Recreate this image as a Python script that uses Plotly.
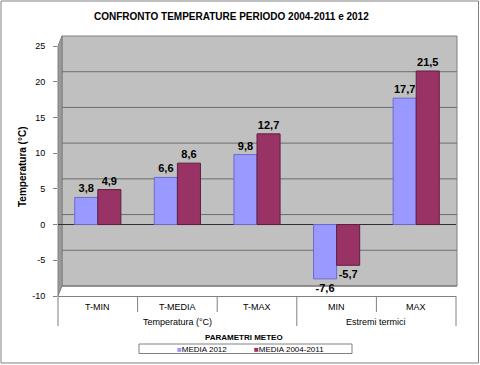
import plotly.graph_objects as go

groups = ["Temperatura (°C)", "Temperatura (°C)", "Temperatura (°C)", "Estremi termici", "Estremi termici"]
categories = ["T-MIN", "T-MEDIA", "T-MAX", "MIN", "MAX"]
media_2012 = [3.8, 6.6, 9.8, -7.6, 17.7]
media_2004_2011 = [4.9, 8.6, 12.7, -5.7, 21.5]
series_names = ["MEDIA 2012", "MEDIA 2004-2011"]
series_colors = ["#9999FF", "#993366"]
y_ticks = [-10, -5, 0, 5, 10, 15, 20, 25]

FONT = "Liberation Sans, Arial, sans-serif"

W, H = 480, 365
L, R, T, B = 58, 24, 46, 69
pw, ph = W - L - R, H - T - B
DEPTH_X, DEPTH_Y = 4, 10  # 3D wall offset in pixels


def px_x(p):
    return (p - L) / pw


def px_y(p):
    return (H - B - p) / ph


def fmt(v):
    return f"{v:.1f}".replace(".", ",")


fig = go.Figure()
outlines = ["#6B6BD0", "#5E1F40"]
for name, vals, col, oc in zip(series_names, [media_2012, media_2004_2011], series_colors, outlines):
    fig.add_trace(go.Bar(
        x=categories, y=vals, name=name,
        marker=dict(color=col, line=dict(color=oc, width=1)),
        text=[fmt(v) for v in vals],
        textposition="outside", cliponaxis=False,
        textfont=dict(family=FONT, size=11, color="#000000"),
        texttemplate="<b>%{text}</b>",
        showlegend=False, hoverinfo="skip",
    ))

shapes = []
# outer chart border
shapes.append(dict(type="rect", xref="paper", yref="paper",
                   x0=px_x(1), x1=px_x(478.5), y0=px_y(363), y1=px_y(1),
                   line=dict(color="#808080", width=1), fillcolor="rgba(0,0,0,0)", layer="above"))
# back wall
shapes.append(dict(type="rect", xref="paper", yref="paper",
                   x0=px_x(L + DEPTH_X), x1=px_x(W - R + 1), y0=px_y(H - B - DEPTH_Y), y1=px_y(T - DEPTH_Y),
                   line=dict(color="#808080", width=1), fillcolor="#C0C0C0", layer="below"))
# side wall
x_a, x_b = px_x(L), px_x(L + DEPTH_X)
y_top_f, y_top_b = px_y(T), px_y(T - DEPTH_Y)
y_bot_f, y_bot_b = px_y(H - B), px_y(H - B - DEPTH_Y)
shapes.append(dict(type="path", xref="paper", yref="paper",
                   path=f"M {x_a},{y_top_f} L {x_b},{y_top_b} L {x_b},{y_bot_b} L {x_a},{y_bot_f} Z",
                   line=dict(color="#808080", width=1), fillcolor="#9A9A9A", layer="below"))
# gridlines on back wall (shifted by the 3D depth)
for v in y_ticks:
    shapes.append(dict(type="line", xref="paper", yref="y", ysizemode="pixel", yanchor=v,
                       x0=px_x(L + DEPTH_X), x1=px_x(W - R + 1), y0=DEPTH_Y, y1=DEPTH_Y,
                       line=dict(color="#6E6E6E", width=1), layer="below"))
# category dividers
group_breaks = [i for i in range(1, len(groups)) if groups[i] != groups[i - 1]]
n = len(categories)
for k in range(n + 1):
    full = k == 0 or k == n or k in group_breaks
    shapes.append(dict(type="line", xref="paper", yref="paper",
                       x0=k / n, x1=k / n, y0=0, y1=px_y(326 if full else 312),
                       line=dict(color="#808080", width=1), layer="above"))

annotations = []
for c in categories:
    annotations.append(dict(text=c, xref="x", yref="paper", x=c, y=px_y(307),
                            showarrow=False, font=dict(family=FONT, size=9),
                            xanchor="center", yanchor="middle"))
# group labels
uniq = []
for g in groups:
    if g not in uniq:
        uniq.append(g)
for g in uniq:
    idx = [i for i, gg in enumerate(groups) if gg == g]
    annotations.append(dict(text=g, xref="x", yref="paper", x=sum(idx) / len(idx), y=px_y(322),
                            showarrow=False, font=dict(family=FONT, size=9),
                            xanchor="center", yanchor="middle"))
annotations += [
    dict(text="<b>Temperatura (°C)</b>", xref="paper", yref="paper",
         x=px_x(22), y=px_y(167), textangle=-90, showarrow=False,
         font=dict(family=FONT, size=10), xanchor="center", yanchor="middle"),
    dict(text="<b>PARAMETRI METEO</b>", xref="paper", yref="paper",
         x=px_x(244), y=px_y(337), showarrow=False,
         font=dict(family=FONT, size=8), xanchor="center", yanchor="middle"),
    dict(text="<b>CONFRONTO TEMPERATURE PERIODO 2004-2011 e 2012</b>", xref="paper", yref="paper",
         x=px_x(231), y=px_y(17), showarrow=False,
         font=dict(family=FONT, size=10), xanchor="center", yanchor="middle"),
]
# manual legend
shapes.append(dict(type="rect", xref="paper", yref="paper",
                   x0=px_x(139), x1=px_x(352), y0=px_y(353.5), y1=px_y(344),
                   line=dict(color="#808080", width=1), fillcolor="#FFFFFF", layer="above"))
for name, col, lx in zip(series_names, series_colors, [175, 252]):
    annotations.append(dict(
        text=f"<span style='color:{col}'>■</span>{name}", xref="paper", yref="paper",
        x=px_x(lx), y=px_y(349), showarrow=False, font=dict(family=FONT, size=8),
        xanchor="left", yanchor="middle"))

fig.update_layout(
    width=W, height=H,
    margin=dict(l=L, r=R, t=T, b=B, autoexpand=False),
    paper_bgcolor="#FFFFFF",
    plot_bgcolor="rgba(0,0,0,0)",
    barmode="group",
    bargap=0.42,
    bargroupgap=0.0,
    separators=",.",
    font=dict(family=FONT, size=9, color="#000000"),
    showlegend=False,
    hovermode=False,
    xaxis=dict(type="category", categoryorder="array", categoryarray=categories,
               showgrid=False, showline=True, linecolor="#808080", showticklabels=False,
               ticks="", zeroline=False),
    yaxis=dict(range=[-10, 25], tickvals=y_ticks, ticktext=[str(v) for v in y_ticks],
               showgrid=False,
               zeroline=True, zerolinecolor="#303030", zerolinewidth=1,
               showline=False,
               tickfont=dict(family=FONT, size=9), ticks="outside", ticklen=4,
               tickcolor="#808080", ticklabelstandoff=6),
    shapes=shapes,
    annotations=annotations,
)

fig.write_html("out.html", config={"displayModeBar": False, "staticPlot": True},
               post_script="document.body.style.margin='0';")
